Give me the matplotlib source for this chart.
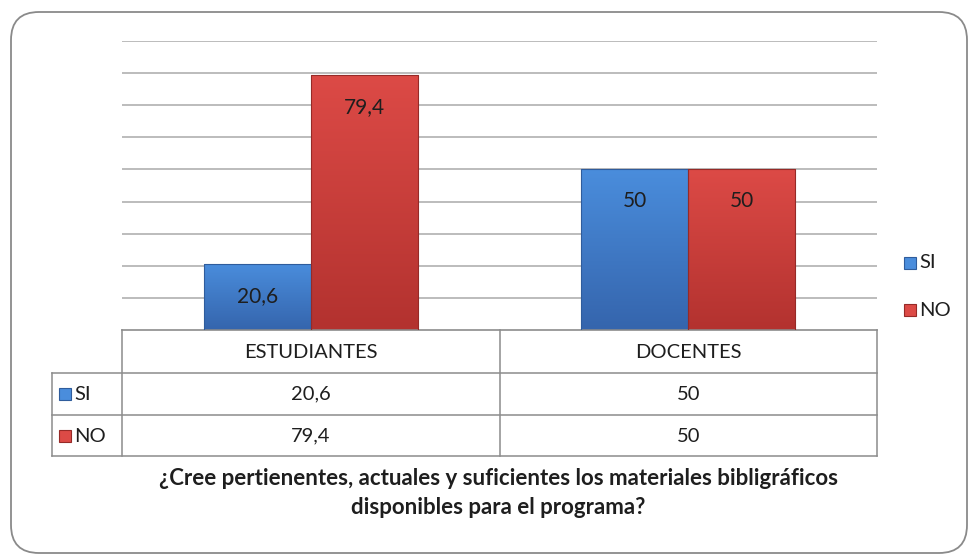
import matplotlib
matplotlib.use('Agg')
import matplotlib.pyplot as plt
import numpy as np
from matplotlib.patches import FancyBboxPatch, Rectangle
from matplotlib.lines import Line2D
from matplotlib.colors import LinearSegmentedColormap

# ---------------- data ----------------
categories = ['ESTUDIANTES', 'DOCENTES']
series_names = ['SI', 'NO']
si_values = [20.6, 50]
no_values = [79.4, 50]
si_labels = ['20,6', '50']
no_labels = ['79,4', '50']
title_text = ('¿Cree pertienentes, actuales y suficientes los materiales bibligráficos\n'
              'disponibles para el programa?')

# ---------------- styling ----------------
plt.rcParams['font.family'] = ['Lato', 'DejaVu Sans']
BLUE_TOP, BLUE_BOT, BLUE_EDGE = '#4a8ddc', '#3565ad', '#2f5c9c'
RED_TOP, RED_BOT, RED_EDGE = '#dc4a46', '#b3322f', '#962a27'
GRID = '#a9a9a9'
TABLE = '#8c8c8c'
TXT = '#1e1e1e'

W, H = 969, 554
fig = plt.figure(figsize=(W / 100, H / 100), dpi=100)
fig.patch.set_facecolor('white')


def fx(x):
    return x / W


def fy(y):
    return 1 - y / H


# rounded outer border (in inches)
border = FancyBboxPatch((11 / 100, (H - 553) / 100), (967 - 11) / 100, (553 - 12) / 100,
                        boxstyle='round,pad=0,rounding_size=0.28',
                        transform=fig.dpi_scale_trans, facecolor='white',
                        edgecolor='#8a8a8a', linewidth=1.3, zorder=0)
fig.add_artist(border)

# plot area
ax = fig.add_axes([fx(122), fy(330), fx(877) - fx(122), fy(41) - fy(330)])
ax.set_facecolor('none')
ax.set_yticks(np.arange(10, 91, 10))
ax.yaxis.grid(True, color=GRID, linewidth=1.1)
ax.set_axisbelow(True)
ax.tick_params(left=False, bottom=False, labelleft=False, labelbottom=False)
ax.set_xticks([])
for s in ['left', 'right', 'top']:
    ax.spines[s].set_visible(False)
ax.spines['bottom'].set_color(TABLE)
ax.spines['bottom'].set_linewidth(1.2)

x = np.arange(len(categories))
bw = 0.284


def gradient_fill(bars, top, bot):
    cmap = LinearSegmentedColormap.from_list('g', [bot, top])
    grad = np.linspace(0, 1, 100).reshape(-1, 1)
    for b in bars:
        x0, y0 = b.get_x(), b.get_y()
        w, h = b.get_width(), b.get_height()
        im = ax.imshow(grad, cmap=cmap, aspect='auto', origin='lower',
                       extent=(x0, x0 + w, y0, y0 + h), zorder=2)
        im.set_clip_path(b)
        b.set_facecolor('none')


bars_si = ax.bar(x - bw / 2, si_values, bw, color=BLUE_TOP, edgecolor=BLUE_EDGE,
                 linewidth=0.8, zorder=3, label=series_names[0])
bars_no = ax.bar(x + bw / 2, no_values, bw, color=RED_TOP, edgecolor=RED_EDGE,
                 linewidth=0.8, zorder=3, label=series_names[1])
gradient_fill(bars_si, BLUE_TOP, BLUE_BOT)
gradient_fill(bars_no, RED_TOP, RED_BOT)
ax.set_xlim(-0.5, len(categories) - 0.5)
ax.set_ylim(0, 90)

for bars, labs in ((bars_si, si_labels), (bars_no, no_labels)):
    for b, lab in zip(bars, labs):
        ax.annotate(lab, (b.get_x() + b.get_width() / 2, b.get_height()),
                    xytext=(0, -32), textcoords='offset pixels',
                    ha='center', va='center', fontsize=15, color=TXT, zorder=5)

# legend (right)
for i, (name, col, edge) in enumerate(zip(series_names, [BLUE_TOP, RED_TOP], [BLUE_EDGE, RED_EDGE])):
    yy = 263 + i * 47
    fig.add_artist(Rectangle((fx(904), fy(yy + 6)), fx(12), 12 / H, transform=fig.transFigure,
                             facecolor=col, edgecolor=edge, linewidth=0.8))
    fig.text(fx(919), fy(yy), name, ha='left', va='center', fontsize=14.5, color=TXT)

# data table
col_edges = [122, 500, 877]
row_lines = [373, 415, 456]
for yy in row_lines:
    fig.add_artist(Line2D([fx(52), fx(877)], [fy(yy), fy(yy)], color=TABLE, lw=1.1))
for xx in col_edges:
    fig.add_artist(Line2D([fx(xx), fx(xx)], [fy(330), fy(456)], color=TABLE, lw=1.1))
fig.add_artist(Line2D([fx(52), fx(52)], [fy(373), fy(456)], color=TABLE, lw=1.1))

col_centers = [(col_edges[i] + col_edges[i + 1]) / 2 for i in range(len(categories))]
for cx, cat in zip(col_centers, categories):
    fig.text(fx(cx), fy(352), cat, ha='center', va='center', fontsize=14.5, color=TXT)

row_centers = [394, 436]
for ry, name, labs, col, edge in zip(row_centers, series_names, [si_labels, no_labels],
                                     [BLUE_TOP, RED_TOP], [BLUE_EDGE, RED_EDGE]):
    fig.add_artist(Rectangle((fx(59), fy(ry + 6)), fx(12), 12 / H, transform=fig.transFigure,
                             facecolor=col, edgecolor=edge, linewidth=0.8))
    fig.text(fx(74), fy(ry), name, ha='left', va='center', fontsize=14.5, color=TXT)
    for cx, lab in zip(col_centers, labs):
        fig.text(fx(cx), fy(ry), lab, ha='center', va='center', fontsize=14.5, color=TXT)

# title
fig.text(fx(498), fy(493), title_text, ha='center', va='center', fontsize=16,
         fontweight='bold', color=TXT, linespacing=1.45)

fig.savefig('out.png', dpi=100, facecolor='white')
